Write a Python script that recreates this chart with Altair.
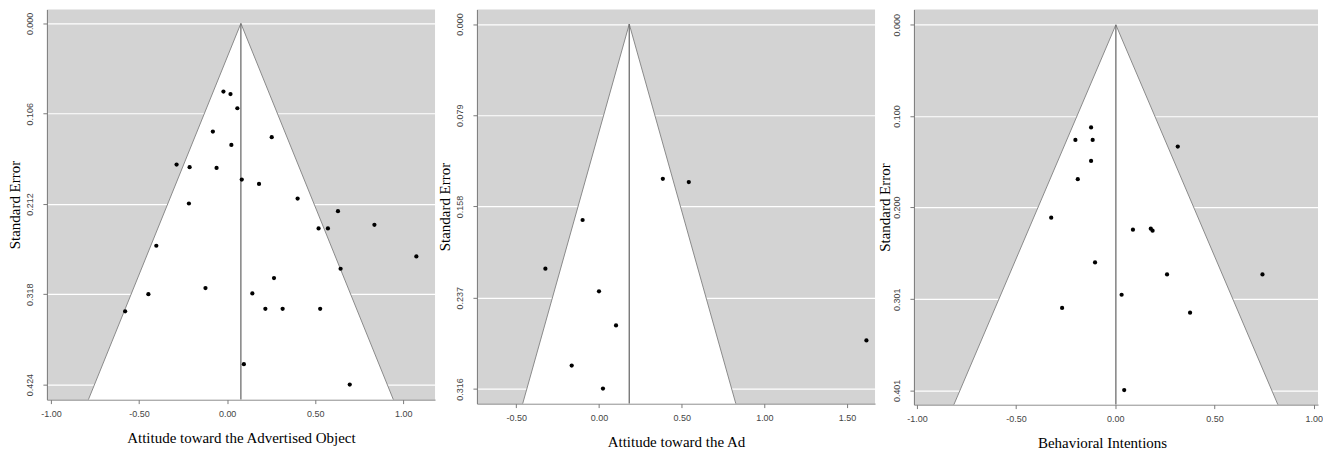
import altair as alt
import pandas as pd

# ---- Panel 1: Attitude toward the Advertised Object ----
ao_effect = [-0.021, 0.019, 0.058, -0.081, 0.253, 0.024, -0.287, -0.213, -0.060, 0.083,
             0.181, 0.400, -0.217, 0.629, 0.836, 0.519, 0.572, -0.402, 1.074, 0.644,
             0.266, -0.123, 0.143, -0.447, -0.579, 0.217, 0.315, 0.528, 0.095, 0.696]
ao_se = [0.080, 0.083, 0.0996, 0.127, 0.1336, 0.1426, 0.1657, 0.1688, 0.1696, 0.1833,
         0.1884, 0.2056, 0.2114, 0.2204, 0.2364, 0.2407, 0.2407, 0.261, 0.2736, 0.288,
         0.299, 0.3107, 0.317, 0.3178, 0.338, 0.335, 0.335, 0.335, 0.400, 0.424]
ao_mean = 0.078
ao_xticks = [-1.0, -0.5, 0.0, 0.5, 1.0]
ao_yticks = [0.000, 0.106, 0.212, 0.318, 0.424]

# ---- Panel 2: Attitude toward the Ad ----
ad_effect = [0.386, 0.543, -0.099, -0.324, 0.000, 0.103, 1.617, -0.165, 0.024]
ad_se = [0.134, 0.1368, 0.1697, 0.2119, 0.2315, 0.261, 0.274, 0.2958, 0.3157]
ad_mean = 0.183
ad_xticks = [-0.5, 0.0, 0.5, 1.0, 1.5]
ad_yticks = [0.000, 0.079, 0.158, 0.237, 0.316]

# ---- Panel 3: Behavioral Intentions ----
bi_effect = [-0.122, -0.201, -0.114, 0.315, -0.122, -0.189, -0.323, 0.089, 0.179, 0.188,
             -0.102, 0.261, 0.742, 0.032, -0.268, 0.377, 0.045]
bi_se = [0.1125, 0.1263, 0.1263, 0.1336, 0.1493, 0.1693, 0.2115, 0.2247, 0.2236, 0.2258,
         0.2607, 0.2738, 0.2738, 0.2961, 0.3106, 0.3158, 0.4006]
bi_mean = 0.003
bi_xticks = [-1.0, -0.5, 0.0, 0.5, 1.0]
bi_yticks = [0.000, 0.100, 0.200, 0.301, 0.401]

GRAY_BG = "#d3d3d3"
LINE_GRAY = "#8a8a8a"
AXIS_GRAY = "#7a7a7a"

X_LABEL_EXPR = "(datum.value < 0 ? '-' : '') + format(abs(datum.value), '.2f')"


def panel(effect, se, mean, title, x_domain, y_domain, x_ticks, y_ticks, width, height,
          title_shift=0, ytitle_pad=3):
    se_max = y_domain[1]
    pts = pd.DataFrame({"effect": effect, "se": se})
    funnel = pd.DataFrame({
        "se": [0.0, se_max],
        "lo": [mean, mean - 1.96 * se_max],
        "hi": [mean, mean + 1.96 * se_max],
    })
    edges = pd.DataFrame({
        "x": [mean, mean],
        "y": [0.0, 0.0],
        "x2": [mean - 1.96 * se_max, mean + 1.96 * se_max],
        "y2": [se_max, se_max],
    })
    center = pd.DataFrame({"x": [mean], "y": [0.0], "y2": [se_max]})

    xs = alt.Scale(domain=x_domain, nice=False, zero=False)
    ys = alt.Scale(domain=y_domain, nice=False, zero=False, reverse=True)
    xax = alt.Axis(values=x_ticks, labelExpr=X_LABEL_EXPR, title=title, grid=False,
                   titleX=width / 2 + title_shift)
    yax = alt.Axis(values=y_ticks, format=".3f", title="Standard Error", grid=True,
                   gridColor="white", gridWidth=1.2, gridOpacity=1,
                   labelAngle=-90, labelAlign="center", labelBaseline="bottom",
                   labelPadding=8, titlePadding=ytitle_pad)

    tri = alt.Chart(funnel).mark_area(color="white", opacity=1, orient="horizontal").encode(
        y=alt.Y("se:Q", scale=ys, axis=yax),
        x=alt.X("lo:Q", scale=xs, axis=xax),
        x2="hi:Q",
    )
    edge = alt.Chart(edges).mark_rule(color=LINE_GRAY, strokeWidth=1).encode(
        x="x:Q", y="y:Q", x2="x2:Q", y2="y2:Q"
    )
    mid = alt.Chart(center).mark_rule(color="#6e6e6e", strokeWidth=1.3).encode(
        x="x:Q", y="y:Q", y2="y2:Q"
    )
    dots = alt.Chart(pts).mark_circle(color="black", size=18, opacity=1).encode(
        x="effect:Q", y="se:Q"
    )
    return alt.layer(tri, edge, mid, dots).properties(
        width=width, height=height,
        view=alt.ViewBackground(fill=GRAY_BG, stroke=None),
    )


p1 = panel(ao_effect, ao_se, ao_mean, "Attitude toward the Advertised Object",
           [-1.023, 1.18], [-0.0163, 0.4416], ao_xticks, ao_yticks, 389, 391)
p2 = panel(ad_effect, ad_se, ad_mean, "Attitude toward the Ad",
           [-0.738, 1.669], [-0.0126, 0.3287], ad_xticks, ad_yticks, 399, 395)
p3 = panel(bi_effect, bi_se, bi_mean, "Behavioral Intentions",
           [-1.015, 1.022], [-0.0168, 0.4166], bi_xticks, bi_yticks, 405, 396,
           title_shift=-14, ytitle_pad=0)

chart = alt.hconcat(p1, p2, p3, spacing=3).properties(
    padding={"left": 0, "top": 1, "right": 0, "bottom": 0},
    background="white",
).configure_view(
    fill=GRAY_BG, stroke=None
).configure_axis(
    domainColor=AXIS_GRAY, domainWidth=1,
    tickColor=AXIS_GRAY, tickSize=4, tickWidth=1,
    labelFont="Liberation Sans", labelFontSize=9, labelColor="#444444",
    titleFont="Liberation Serif", titleFontSize=15, titleFontWeight="normal",
    titleColor="black",
).configure_axisX(
    labelPadding=6, titlePadding=12
)

chart.save("out.html", embed_options={"renderer": "svg", "actions": False})
